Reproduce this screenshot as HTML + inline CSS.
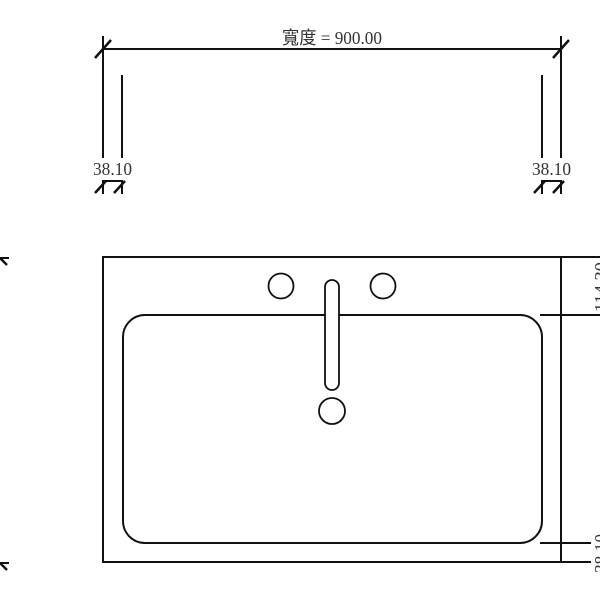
<!DOCTYPE html>
<html><head><meta charset="utf-8"><style>html,body{margin:0;padding:0;background:#fff}svg{display:block}</style></head>
<body>
<svg width="600" height="600" viewBox="0 0 600 600" xmlns="http://www.w3.org/2000/svg">
<g stroke="#111" stroke-width="2" fill="none" stroke-linecap="butt">
<line x1="103" y1="49" x2="561" y2="49"/>
<line x1="103" y1="36" x2="103" y2="158"/>
<line x1="122" y1="75" x2="122" y2="158"/>
<line x1="542" y1="75" x2="542" y2="158"/>
<line x1="561" y1="36" x2="561" y2="158"/>
<line x1="95" y1="58" x2="111" y2="40" stroke-width="2.5"/>
<line x1="553" y1="58" x2="569" y2="40" stroke-width="2.5"/>
<line x1="103" y1="180" x2="103" y2="194"/>
<line x1="122" y1="180" x2="122" y2="194"/>
<line x1="103" y1="181" x2="122" y2="181"/>
<line x1="95" y1="193" x2="106" y2="181" stroke-width="2.5"/>
<line x1="114" y1="193" x2="125" y2="181" stroke-width="2.5"/>
<line x1="542" y1="180" x2="542" y2="194"/>
<line x1="561" y1="180" x2="561" y2="194"/>
<line x1="542" y1="181" x2="561" y2="181"/>
<line x1="534" y1="193" x2="545" y2="181" stroke-width="2.5"/>
<line x1="553" y1="193" x2="564" y2="181" stroke-width="2.5"/>
<rect x="103" y="257" width="458" height="305"/>
<line x1="510" y1="257" x2="600" y2="257"/>
<line x1="540" y1="315" x2="600" y2="315"/>
<line x1="540" y1="543" x2="591" y2="543"/>
<line x1="540" y1="562" x2="591" y2="562"/>
<rect x="123" y="315" width="419" height="228" rx="22" ry="22"/>
<circle cx="281" cy="286" r="12.5" stroke-width="1.8"/>
<circle cx="383" cy="286" r="12.5" stroke-width="1.8"/>
<rect x="325" y="280" width="14" height="110" rx="7" ry="7" stroke-width="1.8" fill="#fff"/>
<circle cx="332" cy="411" r="13" stroke-width="1.8"/>
<line x1="0" y1="258" x2="9" y2="258"/>
<line x1="0" y1="258" x2="7" y2="265" stroke-width="2.5"/>
<line x1="0" y1="563" x2="9" y2="563"/>
<line x1="0" y1="563" x2="7" y2="570" stroke-width="2.5"/>
</g>
<g font-family="Liberation Serif, Noto Serif CJK SC, serif" fill="#333">
<text x="282" y="44" font-size="18" textLength="100" lengthAdjust="spacingAndGlyphs" font-family="Liberation Serif, Noto Sans CJK TC, serif">寬度 = 900.00</text>
<text x="93" y="175" font-size="18" textLength="39" lengthAdjust="spacingAndGlyphs">38.10</text>
<text x="532" y="175" font-size="18" textLength="39" lengthAdjust="spacingAndGlyphs">38.10</text>
<text transform="translate(607,312) rotate(-90)" font-size="18" textLength="50" lengthAdjust="spacingAndGlyphs">114.30</text>
<text transform="translate(607,573) rotate(-90)" font-size="18" textLength="39" lengthAdjust="spacingAndGlyphs">38.10</text>
</g>
</svg>
</body></html>
